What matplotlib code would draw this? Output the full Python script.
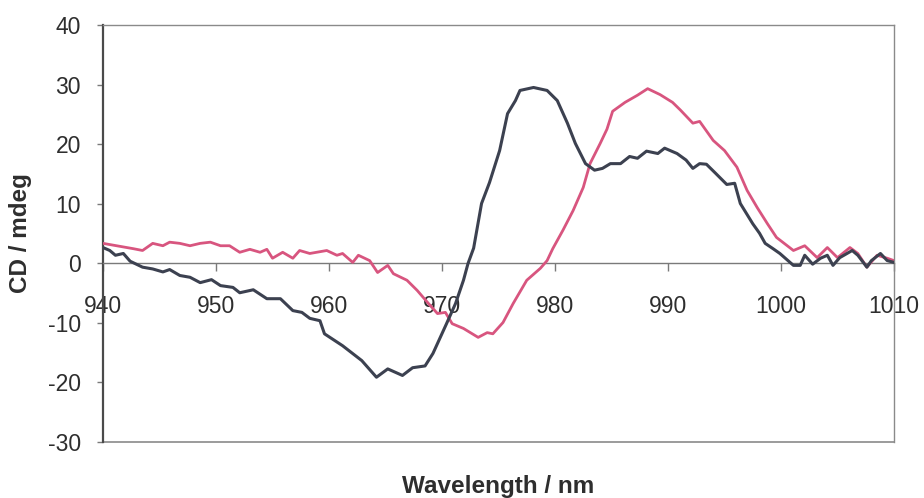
import matplotlib
matplotlib.use("Agg")
import matplotlib.pyplot as plt

plt.rcParams['font.family'] = ['Liberation Sans', 'DejaVu Sans']
plt.rcParams['axes.unicode_minus'] = False

# CD spectra (wavelength in nm, CD in mdeg)
wl_dark = [940.0, 940.6, 941.1, 941.8, 942.4, 943.5, 944.4, 945.3, 945.9, 946.8,
           947.7, 948.6, 949.6, 950.4, 951.5, 952.1, 953.3, 954.5, 955.7, 956.8,
           957.6, 958.3, 959.2, 959.6, 961.2, 962.9, 964.2, 965.2, 966.5, 967.4,
           968.5, 969.2, 970.4, 971.2, 971.9, 972.3, 972.8, 973.5, 974.2, 975.1,
           975.8, 976.5, 976.9, 978.1, 979.3, 980.2, 981.1, 981.8, 982.7, 983.5,
           984.2, 984.9, 985.8, 986.6, 987.3, 988.1, 989.1, 989.7, 990.8, 991.6,
           992.2, 992.8, 993.4, 994.2, 995.2, 995.9, 996.4, 997.5, 998.1, 998.6,
           999.3, 999.9, 1001.1, 1001.7, 1002.1, 1002.8, 1003.5, 1004.1, 1004.6,
           1005.2, 1006.3, 1006.8, 1007.6, 1008.0, 1008.8, 1009.4, 1010.0]
cd_dark = [2.6, 2.1, 1.3, 1.6, 0.3, -0.7, -1.0, -1.5, -1.1, -2.1,
           -2.4, -3.3, -2.8, -3.8, -4.1, -5.0, -4.5, -6.0, -6.0, -8.0,
           -8.3, -9.3, -9.7, -11.9, -13.9, -16.4, -19.2, -17.8, -18.9, -17.6,
           -17.3, -15.2, -10.2, -6.8, -2.9, -0.1, 2.5, 10.0, 13.5, 18.9,
           25.1, 27.3, 29.0, 29.5, 29.0, 27.3, 23.5, 20.1, 16.7, 15.6,
           15.9, 16.7, 16.7, 17.9, 17.6, 18.8, 18.4, 19.3, 18.4, 17.3,
           15.9, 16.7, 16.6, 15.1, 13.2, 13.4, 10.0, 6.6, 5.0, 3.3,
           2.4, 1.6, -0.4, -0.4, 1.3, -0.2, 0.8, 1.3, -0.4,
           0.9, 2.1, 1.3, -0.7, 0.4, 1.6, 0.4, 0.1]

wl_pink = [940.0, 941.2, 942.7, 943.5, 944.4, 945.3, 945.9, 946.8, 947.7, 948.6,
           949.5, 950.4, 951.2, 952.1, 953.0, 953.9, 954.5, 955.0, 955.9, 956.8,
           957.4, 958.3, 959.8, 960.7, 961.2, 962.1, 962.6, 963.6, 964.3, 965.2,
           965.7, 966.9, 967.8, 968.8, 969.6, 970.3, 970.9, 971.9, 973.2, 974.0,
           974.5, 975.4, 976.3, 977.5, 978.7, 979.3, 979.8, 980.7, 981.6, 982.5,
           983.1, 984.0, 984.6, 985.1, 986.2, 987.3, 988.2, 989.3, 990.4, 991.1,
           992.2, 992.8, 994.0, 995.0, 996.1, 997.0, 997.9, 998.8, 999.6, 1001.1,
           1002.1, 1003.2, 1004.1, 1005.0, 1006.1, 1006.8, 1007.6, 1008.5, 1009.4,
           1010.0]
cd_pink = [3.3, 2.9, 2.4, 2.1, 3.3, 2.9, 3.5, 3.3, 2.9, 3.3,
           3.5, 2.9, 2.9, 1.8, 2.3, 1.8, 2.3, 0.8, 1.8, 0.8,
           2.1, 1.6, 2.1, 1.3, 1.6, 0.1, 1.3, 0.4, -1.6, -0.4,
           -1.8, -2.9, -4.6, -6.8, -8.5, -8.3, -10.2, -11.0, -12.5, -11.7,
           -11.9, -10.0, -6.8, -2.9, -0.9, 0.4, 2.4, 5.5, 8.8, 12.7,
           16.7, 20.1, 22.5, 25.5, 27.0, 28.2, 29.3, 28.3, 27.0, 25.7,
           23.5, 23.8, 20.6, 18.9, 16.1, 12.2, 9.3, 6.6, 4.3, 2.1,
           2.9, 0.9, 2.6, 0.9, 2.6, 1.6, -0.7, 1.3, 0.8,
           0.4]

x_ticks = [940, 950, 960, 970, 980, 990, 1000, 1010]
y_ticks = [-30, -20, -10, 0, 10, 20, 30, 40]

fig = plt.figure(figsize=(9.24, 4.98), dpi=100)
ax = fig.add_axes([103 / 924, 1 - 441.5 / 498, (894 - 103) / 924, (441.5 - 25) / 498])

ax.plot(wl_pink, cd_pink, color='#d8557f', lw=2.0, zorder=3)
ax.plot(wl_dark, cd_dark, color='#3c4150', lw=2.2, zorder=4)

ax.set_xlim(940, 1010)
ax.set_ylim(-30, 40)
ax.set_xticks(x_ticks)
ax.set_yticks(y_ticks)

# frame: dark left axis, thin grey box elsewhere, x axis crossing at zero
for side in ('top', 'right'):
    ax.spines[side].set_color('#8a8a8a')
    ax.spines[side].set_linewidth(1.0)
ax.spines['left'].set_color('#4a4a4a')
ax.spines['left'].set_linewidth(1.6)
ax.spines['bottom'].set_position(('data', 0))
ax.spines['bottom'].set_color('#7a7a7a')
ax.spines['bottom'].set_linewidth(1.0)
ax.axhline(-30, color='#8a8a8a', lw=1.2, clip_on=False, zorder=1)

ax.tick_params(axis='x', direction='out', length=6, width=1, color='#7a7a7a',
               pad=17, labelsize=16.5, labelcolor='#2e2e2e')
ax.tick_params(axis='y', direction='out', length=4, width=1, color='#7a7a7a',
               pad=12, labelsize=16.5, labelcolor='#2e2e2e')

ax.set_xlabel('Wavelength / nm', fontsize=17.5, fontweight='bold', color='#2e2e2e')
ax.set_ylabel('CD / mdeg', fontsize=17.5, fontweight='bold', color='#2e2e2e')
ax.xaxis.set_label_coords(0.5, -0.08)
ax.yaxis.set_label_coords(-0.09, 0.5)

fig.savefig('out.png', dpi=100)
